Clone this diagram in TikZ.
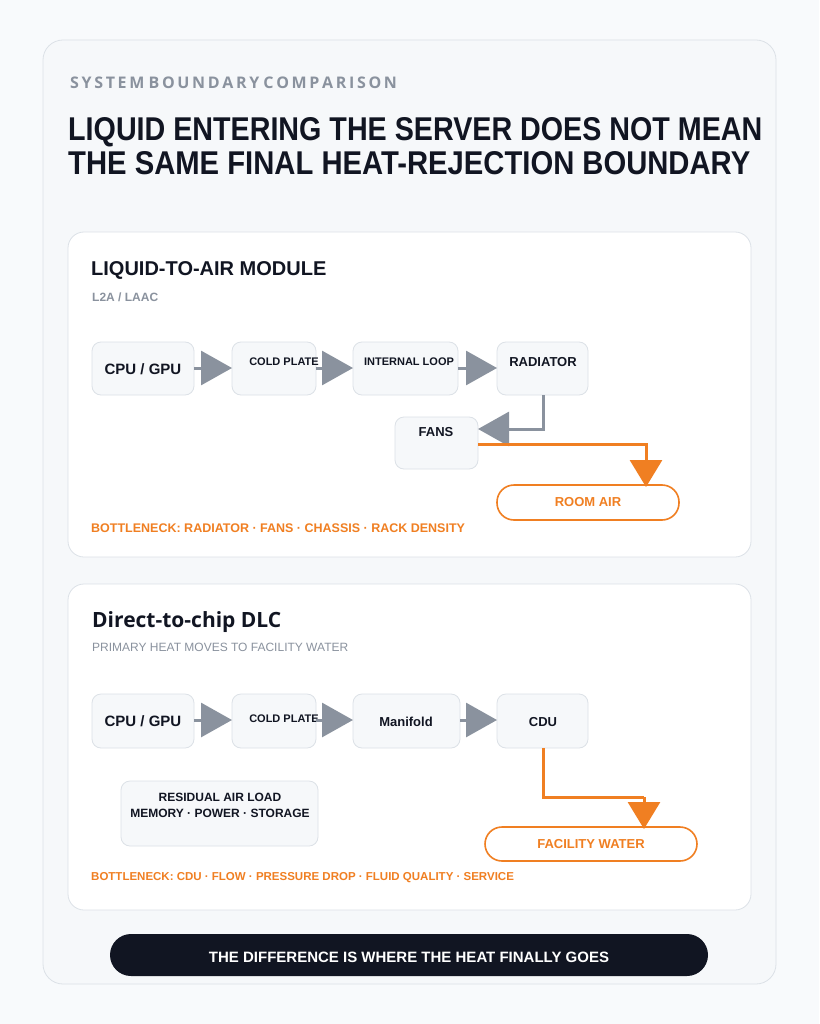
\documentclass[tikz,border=0pt]{standalone}
\usepackage{fontspec}
\setmainfont{Liberation Sans}
\newfontfamily\inter{Open Sans}
\usetikzlibrary{arrows.meta}
\definecolor{bg}{HTML}{F8FAFC}
\definecolor{card}{HTML}{F6F8FA}
\definecolor{bord}{HTML}{DCE1E7}
\definecolor{gr}{HTML}{8A929E}
\definecolor{ink}{HTML}{111522}
\definecolor{org}{HTML}{F07F22}
\begin{document}
\begin{tikzpicture}[x=1pt,y=-1pt,
  panel/.style={draw=bord,fill=white,rounded corners=16pt,line width=0.8pt},
  box/.style={draw=bord,fill=card,rounded corners=9pt,line width=0.8pt},
  lbl/.style={font=\bfseries\fontsize{13}{15}\selectfont,text=ink,inner sep=0},
  slbl/.style={font=\fontsize{11}{13}\selectfont\bfseries,text=ink,inner sep=0},
  garr/.style={draw=gr,line width=3pt,-{Triangle[length=31pt,width=34pt]}},
  oarr/.style={draw=org,line width=3pt,-{Triangle[length=27pt,width=32pt]}},
  pill/.style={draw=org,fill=white,rounded corners=17pt,line width=1.6pt},
  olbl/.style={font=\bfseries\fontsize{13}{15}\selectfont,text=org,inner sep=0},
  note/.style={font=\bfseries\fontsize{12.5}{14}\selectfont,text=org,anchor=west,inner sep=0}]
\useasboundingbox (0,0) rectangle (819,1024);
\fill[bg] (0,0) rectangle (819,1024);
\draw[draw=bord,fill=card,rounded corners=20pt,line width=0.8pt] (43,40) rectangle (776,984);
\node[anchor=west,inner sep=0,text=gr,font=\inter\bfseries\fontsize{16}{18}\selectfont] (kick) at (70,83) {S\,Y\,S\,T\,E\,M\ B\,O\,U\,N\,D\,A\,R\,Y\ C\,O\,M\,P\,A\,R\,I\,S\,O\,N};
\node[anchor=west,inner sep=0,text=ink] (t1) at (68,132) {\resizebox{694pt}{23pt}{\bfseries LIQUID ENTERING THE SERVER DOES NOT MEAN}};
\node[anchor=west,inner sep=0,text=ink] (t2) at (68,163) {\resizebox{682pt}{23pt}{\bfseries THE SAME FINAL HEAT-REJECTION BOUNDARY}};
% panel 1
\draw[panel] (68,232) rectangle (751,557);
\node[anchor=west,inner sep=0,text=ink,font=\bfseries\fontsize{20}{22}\selectfont] (h1) at (91,270) {LIQUID-TO-AIR MODULE};
\node[anchor=west,inner sep=0,text=gr,font=\bfseries\fontsize{12}{14}\selectfont] (s1) at (92,297) {L2A / LAAC};
\draw[box] (92,342) rectangle (194,395); \node[lbl,font=\bfseries\fontsize{15}{17}\selectfont] (a1) at (143,369) {CPU / GPU};
\draw[box] (232,342) rectangle (316,395); \node[slbl] (a2) at (284,362) {COLD PLATE};
\draw[box] (353,342) rectangle (458,395); \node[slbl] (a3) at (409,362) {INTERNAL LOOP};
\draw[box] (497,342) rectangle (588,395); \node[lbl] (a4) at (543,362) {RADIATOR};
\draw[box] (395,417) rectangle (478,469); \node[lbl] (a5) at (436,432) {FANS};
\coordinate (c1) at (194,368); \coordinate (c2) at (232,368);
\coordinate (c3) at (316,368); \coordinate (c4) at (353,368);
\coordinate (c5) at (458,368); \coordinate (c6) at (497,368);
\draw[garr] (c1) -- (c2); \draw[garr] (c3) -- (c4); \draw[garr] (c5) -- (c6);
\coordinate (r1) at (543,395); \coordinate (f1) at (478,429);
\draw[garr] (r1) |- (f1);
\draw[pill] (497,485) rectangle (679,520); \node[olbl] (room) at (588,502) {ROOM AIR};
\coordinate (f2) at (478,444); \coordinate (r2) at (646,487);
\draw[oarr] (f2) -| (r2);
\node[note] (b1) at (91,528) {BOTTLENECK: RADIATOR · FANS · CHASSIS · RACK DENSITY};
% panel 2
\draw[panel] (68,584) rectangle (751,910);
\node[anchor=west,inner sep=0,text=ink,font=\inter\bfseries\fontsize{21}{23}\selectfont] (h2) at (92,622) {Direct-to-chip DLC};
\node[anchor=west,inner sep=0,text=gr,font=\fontsize{12}{14}\selectfont] (s2) at (92,647) {PRIMARY HEAT MOVES TO FACILITY WATER};
\draw[box] (92,694) rectangle (194,748); \node[lbl,font=\bfseries\fontsize{15}{17}\selectfont] (d1) at (143,721) {CPU / GPU};
\draw[box] (232,694) rectangle (316,748); \node[slbl] (d2) at (284,719) {COLD PLATE};
\draw[box] (353,694) rectangle (460,748); \node[lbl] (d3) at (406,722) {Manifold};
\draw[box] (497,694) rectangle (588,748); \node[lbl] (d4) at (543,722) {CDU};
\coordinate (e1) at (194,720); \coordinate (e2) at (232,720);
\coordinate (e3) at (316,720); \coordinate (e4) at (353,720);
\coordinate (e5) at (460,720); \coordinate (e6) at (497,720);
\draw[garr] (e1) -- (e2); \draw[garr] (e3) -- (e4); \draw[garr] (e5) -- (e6);
\draw[box] (121,781) rectangle (318,846);
\node[slbl,align=center,font=\bfseries\fontsize{12}{16}\selectfont] (res) at (220,805) {RESIDUAL AIR LOAD\\MEMORY · POWER · STORAGE};
\draw[pill] (485,827) rectangle (697,861); \node[olbl] (fw) at (591,844) {FACILITY WATER};
\coordinate (g1) at (543,748); \coordinate (g2) at (644,829);
\draw[draw=org,line width=3pt] (g1) |- (644,797);
\draw[oarr] (644,797) -- (g2);
\node[note,font=\bfseries\fontsize{11.5}{14}\selectfont] (b2) at (91,878) {BOTTLENECK: CDU · FLOW · PRESSURE DROP · FLUID QUALITY · SERVICE};
% footer
\fill[ink,rounded corners=21pt] (110,934) rectangle (708,976);
\node[inner sep=0,text=white,font=\bfseries\fontsize{15}{17}\selectfont] (foot) at (409,957) {THE DIFFERENCE IS WHERE THE HEAT FINALLY GOES};
\end{tikzpicture}
\end{document}
